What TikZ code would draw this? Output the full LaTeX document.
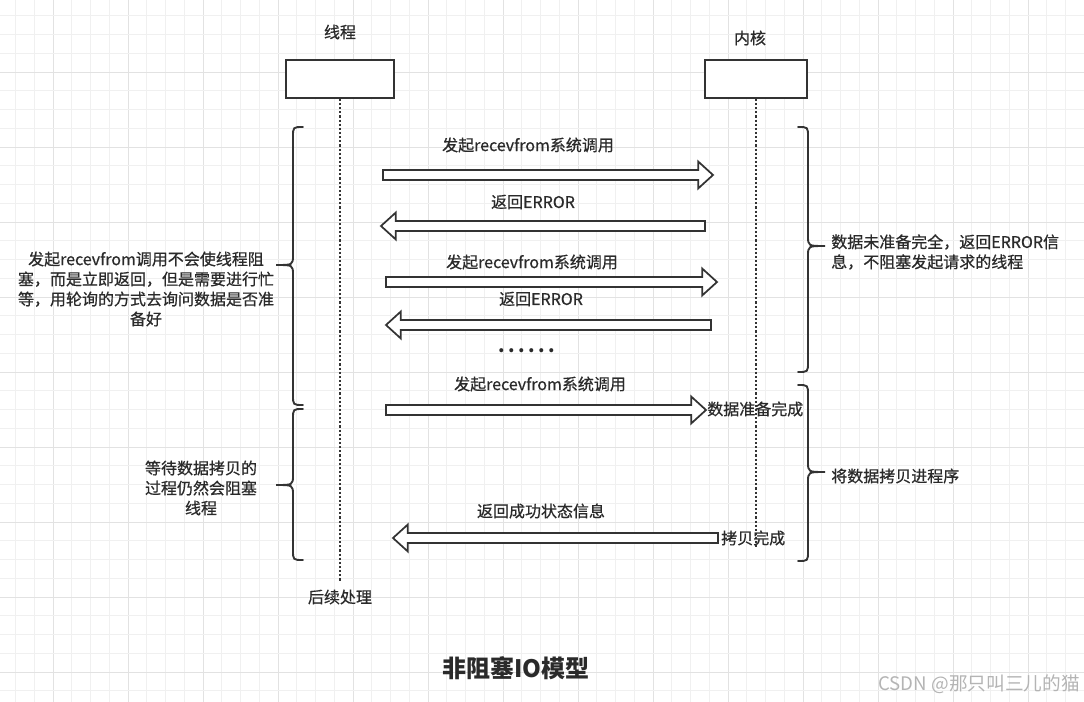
\documentclass[tikz,border=0pt]{standalone}
\usepackage{fontspec}
\setmainfont{Noto Sans CJK SC}
\newfontfamily\medfont[FakeBold=0.6]{Noto Sans CJK SC}
\usetikzlibrary{calc}
\definecolor{linec}{HTML}{333333}
\definecolor{txtc}{HTML}{2A2A2A}
\definecolor{gridminor}{HTML}{F0F0F0}
\definecolor{gridmajor}{HTML}{E2E2E2}
\definecolor{wmark}{HTML}{B4B4B4}
\newcommand\blkarrow[2]{%
  \draw[blockarr] let \p1=(#1),\p2=(#2),\n1={sign(\x2-\x1)} in
    (\x1,\y1+3.75pt) -- ({\x2-\n1*11pt},\y1+3.75pt) -- ({\x2-\n1*11pt},\y1+10pt)
    -- (\x2,\y1) -- ({\x2-\n1*11pt},\y1-10pt) -- ({\x2-\n1*11pt},\y1-3.75pt)
    -- (\x1,\y1-3.75pt) -- cycle;}
\newcommand\brc[5]{%
  \draw[bracestyle] ({#1+10*#5},#2) .. controls (#1,#2) .. (#1,#2+10) -- (#1,#3-10)
    .. controls (#1,#3) .. ({#1-17*#5},#3) .. controls (#1,#3) .. (#1,#3+10)
    -- (#1,#4-10) .. controls (#1,#4) .. ({#1+10*#5},#4);}
\begin{document}
\begin{tikzpicture}[x=0.75pt,y=-0.75pt,
  box/.style={draw=linec,line width=1.4pt,fill=white,minimum height=28.5pt,inner sep=0pt},
  lifeline/.style={draw=linec,line width=1.7pt,dash pattern=on 1.6pt off 1.5pt},
  blockarr/.style={draw=linec,line width=1.3pt,fill=white,line join=miter},
  bracestyle/.style={draw=linec,line width=1.4pt,line cap=round},
  lbl/.style={font=\medfont\fontsize{12}{14.5}\selectfont,text=txtc,inner sep=0pt},
  side/.style={lbl,font=\medfont\fontsize{12}{15}\selectfont},
]
\useasboundingbox (0,0) rectangle (1084,702);
\fill[white] (0,0) rectangle (1084,702);
% grid
\foreach \i in {-3,...,55}{
  \pgfmathtruncatemacro\m{mod(\i+400,4)}
  \ifnum\m=0 \draw[gridmajor,line width=0.6pt] ({53+18.75*\i},0) -- ({53+18.75*\i},702);
  \else \draw[gridminor,line width=0.6pt] ({53+18.75*\i},0) -- ({53+18.75*\i},702); \fi}
\foreach \j in {-4,...,34}{
  \pgfmathtruncatemacro\m{mod(\j+400,4)}
  \ifnum\m=0 \draw[gridmajor,line width=0.6pt] (0,{72+18.75*\j}) -- (1084,{72+18.75*\j});
  \else \draw[gridminor,line width=0.6pt] (0,{72+18.75*\j}) -- (1084,{72+18.75*\j}); \fi}

% participants
\node[lbl] (thl) at (340,32) {线程};
\node[lbl] (knl) at (750,38) {内核};
\node[box,minimum width=81pt] (th) at (340,79) {};
\node[box,minimum width=76.5pt] (kn) at (756,79) {};
\coordinate (thend) at (340,582);
\coordinate (knend) at (756,548);
\draw[lifeline] (th.south) -- (thend);
\draw[lifeline] (kn.south) -- (knend);

% braces
\brc{293}{127}{265}{405}{1}
\brc{293}{409}{485}{560}{1}
\brc{808}{127}{246}{372}{-1}
\brc{808}{385}{472}{561}{-1}

% arrows
\coordinate (a1s) at (383,175); \coordinate (a1e) at (713,175);
\coordinate (a2s) at (705,226); \coordinate (a2e) at (381,226);
\coordinate (a3s) at (386,282); \coordinate (a3e) at (717,282);
\coordinate (a4s) at (711,325); \coordinate (a4e) at (386,325);
\coordinate (a6s) at (386,410); \coordinate (a6e) at (706,410);
\coordinate (a7s) at (718,538); \coordinate (a7e) at (393,538);
\blkarrow{a1s}{a1e}
\blkarrow{a2s}{a2e}
\blkarrow{a3s}{a3e}
\blkarrow{a4s}{a4e}
\blkarrow{a6s}{a6e}
\blkarrow{a7s}{a7e}

% arrow labels
\node[lbl] (l1) at (528,145) {发起recevfrom系统调用};
\node[lbl] (l2) at (533,202) {返回ERROR};
\node[lbl] (l3) at (532,262) {发起recevfrom系统调用};
\node[lbl] (l4) at (541,299) {返回ERROR};
\node[lbl,font=\fontsize{14}{15}\selectfont\bfseries] (dots) at (527,351) {.\kern2.6pt.\kern2.6pt.\kern2.6pt.\kern2.6pt.\kern2.6pt.};
\node[lbl] (l6) at (540,384) {发起recevfrom系统调用};
\node[lbl] (l7) at (541,511) {返回成功状态信息};
\node[lbl,anchor=west] (ready) at (707,409) {数据准备完成};
\node[lbl,anchor=west] (copied) at (721,538) {拷贝完成};
\node[lbl] (post) at (340,597) {后续处理};

% side texts
\node[side,align=center] (left1) at (146,289) {发起recevfrom调用不会使线程阻\\塞，而是立即返回，但是需要进行忙\\等，用轮询的方式去询问数据是否准\\备好};
\node[side,align=center] (left2) at (201,488) {等待数据拷贝的\\过程仍然会阻塞\\线程};
\node[side,align=left,anchor=west] (right1) at (831,252) {数据未准备完全，返回ERROR信\\息，不阻塞发起请求的线程};
\node[side,anchor=west] (right2) at (831,476) {将数据拷贝进程序};

% title and watermark
\node[lbl,font=\fontsize{18}{20}\selectfont\bfseries] (title) at (516,668) {非阻塞IO模型};
\node[lbl,text=wmark,font=\fontsize{14}{16}\selectfont,anchor=east] (wm) at (1080,684) {CSDN @那只叫三儿的猫};
\end{tikzpicture}
\end{document}
